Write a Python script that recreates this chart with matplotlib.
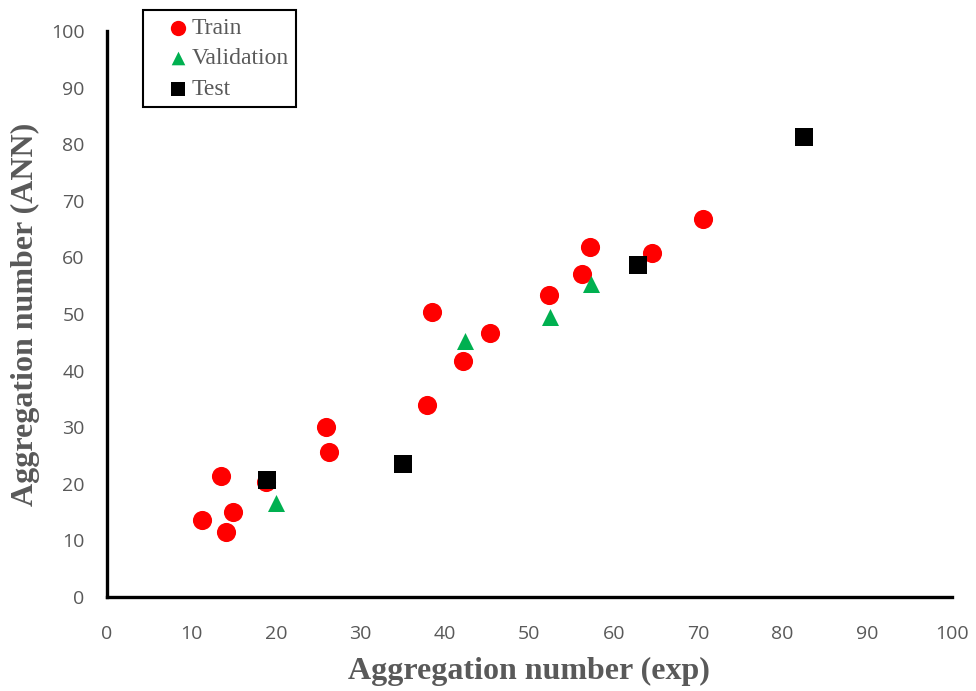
import matplotlib
matplotlib.use("Agg")
import matplotlib.pyplot as plt

train_x = [11.3, 13.5, 14.1, 14.9, 18.8, 25.9, 26.3, 37.9, 38.5, 42.2, 45.3, 52.3, 56.3, 57.2, 64.5, 70.6]
train_y = [13.6, 21.4, 11.5, 15.0, 20.3, 30.0, 25.6, 33.9, 50.4, 41.7, 46.6, 53.4, 57.1, 61.8, 60.8, 66.8]
val_x = [20.0, 42.4, 52.5, 57.3]
val_y = [16.6, 45.2, 49.5, 55.3]
test_x = [19.0, 35.0, 62.9, 82.5]
test_y = [20.7, 23.5, 58.7, 81.3]
ticks = [0, 10, 20, 30, 40, 50, 60, 70, 80, 90, 100]

fig = plt.figure(figsize=(9.76, 6.91), dpi=100)
ax = fig.add_axes([0.1096, 0.136, 0.8654, 0.819])

ax.scatter(train_x, train_y, s=190, marker='o', color='#ff0000', label='Train', zorder=3, linewidths=0)
ax.scatter(val_x, val_y, s=150, marker='^', color='#00b050', label='Validation', zorder=4, linewidths=0)
ax.scatter(test_x, test_y, s=150, marker='s', color='#000000', label='Test', zorder=5, linewidths=0)

ax.set_xlim(0, 100)
ax.set_ylim(0, 100)
ax.set_xticks(ticks)
ax.set_yticks(ticks)
ax.tick_params(length=0, labelsize=14, labelcolor='#595959')
ax.tick_params(axis='x', pad=20)
ax.tick_params(axis='y', pad=16)
for lab in ax.get_xticklabels() + ax.get_yticklabels():
    lab.set_family('Open Sans')
for side in ['top', 'right']:
    ax.spines[side].set_visible(False)
for side in ['left', 'bottom']:
    ax.spines[side].set_linewidth(2.4)
    ax.spines[side].set_color('black')

ax.set_xlabel('Aggregation number (exp)', fontsize=23, fontweight='bold', family='Liberation Serif', color='#595959', labelpad=10)
ax.set_ylabel('Aggregation number (ANN)', fontsize=23, fontweight='bold', family='Liberation Serif', color='#595959', labelpad=8)

leg = ax.legend(loc='upper left', bbox_to_anchor=(0.0426, 1.037), frameon=True, fancybox=False,
                prop={'family': 'Liberation Serif', 'size': 17}, handletextpad=-0.65,
                markerscale=0.8, borderpad=0.3, labelspacing=0.38, handlelength=2.4,
                borderaxespad=0, framealpha=1)
leg.get_frame().set_edgecolor('black')
leg.get_frame().set_linewidth(1.5)
for t in leg.get_texts():
    t.set_color('#595959')

fig.savefig('out.png', dpi=100)
